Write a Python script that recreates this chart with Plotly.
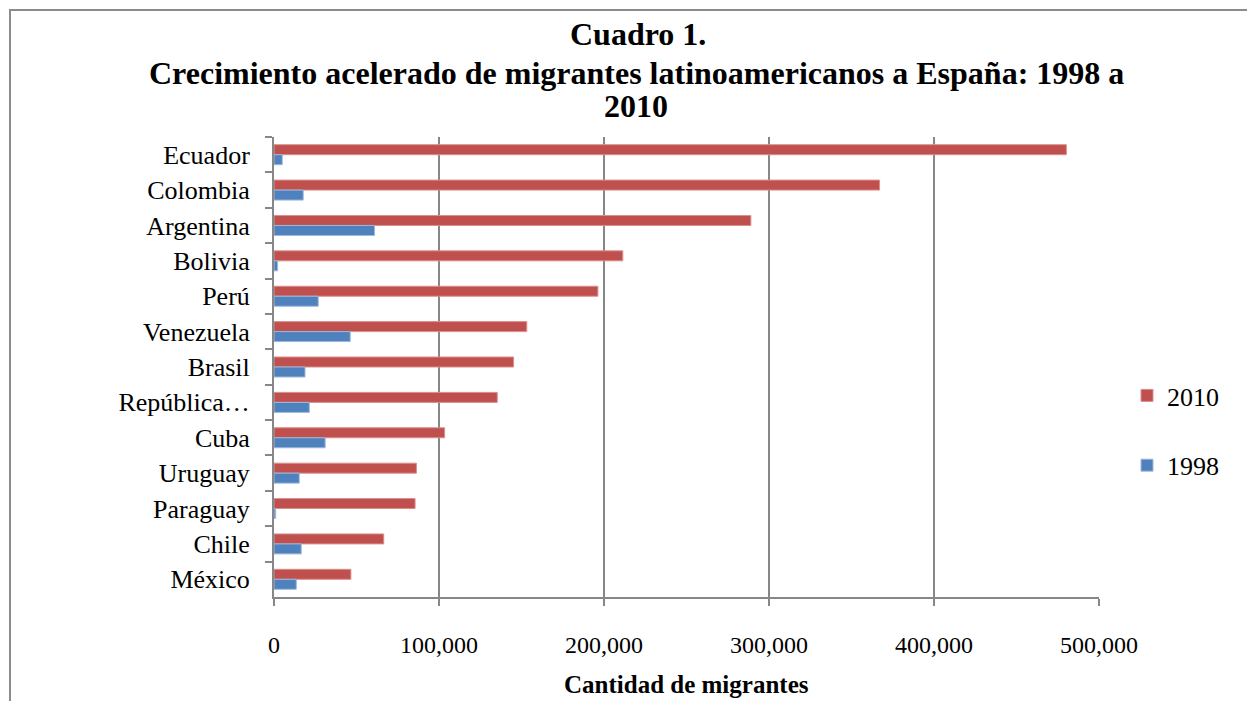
import plotly.graph_objects as go

# Countries, listed top to bottom as they appear on the chart
paises = ["Ecuador", "Colombia", "Argentina", "Bolivia", "Perú", "Venezuela",
          "Brasil", "República…", "Cuba", "Uruguay", "Paraguay", "Chile", "México"]

migrantes_2010 = [480200, 367000, 289000, 211400, 196300, 153200,
                  145200, 135300, 103400, 86300, 85500, 66500, 46600]
migrantes_1998 = [5000, 17700, 60900, 2200, 26800, 46200,
                  18800, 21400, 31000, 15300, 1000, 16500, 13500]

x_ticks = [0, 100000, 200000, 300000, 400000, 500000]
x_tick_text = ["0", "100,000", "200,000", "300,000", "400,000", "500,000"]

SERIF = "Liberation Serif, Times New Roman, serif"
GRID = "#878787"

fig = go.Figure()
fig.add_trace(go.Bar(
    y=paises, x=migrantes_2010, orientation="h", name="2010",
    legendgroup="a",
    marker=dict(color="#C0504D", line=dict(color="#D98F8D", width=1)),
))
fig.add_trace(go.Bar(
    y=paises, x=migrantes_1998, orientation="h", name="1998",
    legendgroup="b",
    marker=dict(color="#4F81BD", line=dict(color="#9DB9DD", width=1)),
))

L, R, T, B = 274, 148, 137, 104
W, H = 1247, 701
ph = H - T - B
pw = W - L - R


def py(pixel_y):
    return (H - B - pixel_y) / ph


def px(pixel_x):
    return (pixel_x - L) / pw


annotations = [
    dict(text="<b>Cuadro 1.</b>", x=px(638), y=py(34)),
    dict(text="<b>Crecimiento acelerado de migrantes latinoamericanos a España: 1998 a</b>",
         x=px(636), y=py(73)),
    dict(text="<b>2010</b>", x=px(636), y=py(106)),
]
for a in annotations:
    a.update(xref="paper", yref="paper", xanchor="center", yanchor="middle",
             showarrow=False, font=dict(family=SERIF, size=32, color="black"))

annotations.append(dict(
    text="<b>Cantidad de migrantes</b>", x=px(686), y=py(684),
    xref="paper", yref="paper", xanchor="center", yanchor="middle",
    showarrow=False, font=dict(family=SERIF, size=25, color="black"),
))

fig.update_layout(
    width=W, height=H,
    margin=dict(l=L, r=R, t=T, b=B, pad=0),
    paper_bgcolor="white", plot_bgcolor="white",
    barmode="group", bargap=0.435, bargroupgap=0,
    font=dict(family=SERIF, size=26, color="black"),
    showlegend=True,
    legend=dict(
        x=px(1127), y=py(372), xanchor="left", yanchor="top",
        font=dict(family=SERIF, size=26, color="black"),
        tracegroupgap=33, bgcolor="rgba(0,0,0,0)",
    ),
    annotations=annotations,
    shapes=[
        dict(type="rect", xref="paper", yref="paper",
             x0=px(10), y0=py(760), x1=px(1300), y1=py(10),
             line=dict(color="#8C8C8C", width=2), layer="below"),
    ],
    xaxis=dict(
        range=[0, 500000], tickvals=x_ticks, ticktext=x_tick_text,
        showgrid=True, gridcolor=GRID, gridwidth=2,
        showline=True, linecolor=GRID, linewidth=2,
        ticks="outside", ticklen=7, tickcolor=GRID, tickwidth=2,
        ticklabelstandoff=18, zeroline=False,
        tickfont=dict(family=SERIF, size=24, color="black"),
    ),
    yaxis=dict(
        type="category", autorange="reversed",
        showline=True, linecolor=GRID, linewidth=2,
        ticks="outside", ticklen=7, tickcolor=GRID, tickwidth=2,
        tickson="boundaries", ticklabelstandoff=17,
        showgrid=False, zeroline=False,
        tickfont=dict(family=SERIF, size=26, color="black"),
    ),
)

fig.write_html("out.html")
